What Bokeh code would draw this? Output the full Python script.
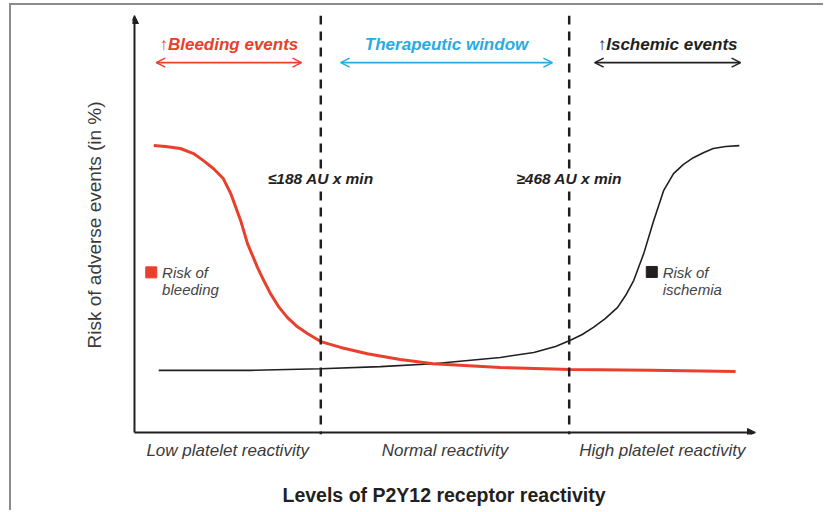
from bokeh.plotting import figure
from bokeh.models import Range1d, Span, Arrow, NormalHead, OpenHead, Label, FixedTicker
from bokeh.embed import file_html
from bokeh.resources import INLINE

# ---- data ----
reactivity_bleeding = [3.1, 5.0, 7.4, 9.5, 11.1, 12.7, 14.3, 15.5, 17.1, 18.2, 19.8, 20.8, 21.9,
                       23.2, 24.6, 26.2, 27.9, 30.0, 33.2, 37.5, 42.8, 48.1, 58.9, 70.2, 83.1, 96.8]
risk_bleeding = [68.8, 68.6, 68.1, 66.9, 65.2, 63.3, 60.9, 57.3, 50.8, 45.3, 39.6, 36.5, 33.3,
                 30.2, 27.6, 25.4, 23.7, 21.8, 20.4, 18.9, 17.5, 16.5, 15.6, 15.1, 14.9, 14.6]
reactivity_ischemia = [3.9, 18.7, 30.0, 39.6, 48.1, 58.9, 64.3, 67.8, 70.2, 72.1, 73.9, 75.8, 77.8,
                       79.1, 80.4, 82.0, 83.6, 85.2, 86.8, 88.4, 90.0, 91.6, 93.2, 95.2, 97.4]
risk_ischemia = [14.9, 14.9, 15.3, 15.8, 16.5, 18.0, 19.2, 20.6, 22.1, 23.5, 25.2, 27.3, 30.0,
                 32.9, 36.5, 42.9, 50.8, 58.0, 62.1, 64.3, 65.9, 67.1, 68.1, 68.6, 68.8]
thresholds = [30, 70]
threshold_labels = ["\u2264188 AU x min", "\u2265468 AU x min"]
categories = ["Low platelet reactivity", "Normal reactivity", "High platelet reactivity"]
category_centers = [15, 50, 85]
zone_titles = ["\u2191Bleeding events", "Therapeutic window", "\u2191Ischemic events"]
zone_starts = [3.5, 33.2, 74.1]
zone_ends = [26.9, 67.3, 97.6]

RED = "#e8402c"
BLUE = "#29abe2"
DARK = "#231f20"
GREY = "#3a3a3a"
FONT = "Liberation Sans"

p = figure(width=814, height=507, x_range=Range1d(-0.32, 100), y_range=Range1d(-0.48, 100),
           output_backend="svg", toolbar_location=None,
           min_border_left=121, min_border_right=70, min_border_top=10, min_border_bottom=78)
p.styles = {"border-left": "2px solid #8c8c8c", "border-top": "2px solid #8c8c8c",
            "margin-left": "9px", "margin-top": "3px"}
p.outline_line_color = None
p.grid.grid_line_color = None
p.background_fill_color = "white"
p.border_fill_color = "white"

# x axis: category labels + title
xa = p.xaxis[0]
xa.ticker = FixedTicker(ticks=category_centers)
xa.major_label_overrides = {c: t for c, t in zip(category_centers, categories)}
xa.axis_line_color = None
xa.major_tick_line_color = None
xa.minor_tick_line_color = None
xa.major_label_text_font = FONT
xa.major_label_text_font_style = "italic"
xa.major_label_text_font_size = "17px"
xa.major_label_text_color = GREY
xa.major_label_standoff = 0
xa.axis_label = "Levels of P2Y12 receptor reactivity"
xa.axis_label_text_font = FONT
xa.axis_label_text_font_style = "bold"
xa.axis_label_text_font_size = "19.5px"
xa.axis_label_text_color = DARK
xa.axis_label_standoff = 21

ya = p.yaxis[0]
ya.ticker = FixedTicker(ticks=[])
ya.axis_line_color = None
ya.major_tick_line_color = None
ya.minor_tick_line_color = None
ya.axis_label = "Risk of adverse events (in %)"
ya.axis_label_text_font = FONT
ya.axis_label_text_font_style = "normal"
ya.axis_label_text_font_size = "19px"
ya.axis_label_text_color = GREY
ya.axis_label_standoff = 28

# axes with arrow heads
p.add_layout(Arrow(x_start=0, y_start=0, x_end=100, y_end=0, line_width=2, line_color=DARK,
                   end=NormalHead(size=8, fill_color=DARK, line_color=DARK)))
p.add_layout(Arrow(x_start=0, y_start=0, x_end=0, y_end=100, line_width=2, line_color=DARK,
                   end=NormalHead(size=8, fill_color=DARK, line_color=DARK)))

# thresholds
for t, lab in zip(thresholds, threshold_labels):
    p.add_layout(Span(location=t, dimension="height", line_color=DARK, line_width=2.5,
                      line_dash="9 7"))
    p.add_layout(Label(x=t, y=61.0, text=lab, text_align="center", text_baseline="middle",
                       text_font=FONT, text_font_style="bold italic", text_font_size="15.5px",
                       text_color=DARK, background_fill_color="white"))

# zone titles and double arrows
zone_colors = [RED, BLUE, DARK]
for title, x0, x1, c in zip(zone_titles, zone_starts, zone_ends, zone_colors):
    p.add_layout(Label(x=(x0 + x1) / 2, y=93.0, text=title, text_align="center",
                       text_baseline="middle", text_font=FONT, text_font_style="bold italic",
                       text_font_size="17px", text_color=c))
    p.add_layout(Arrow(x_start=x0, y_start=88.7, x_end=x1, y_end=88.7, line_color=c,
                       line_width=1.6,
                       start=OpenHead(size=9, line_color=c, line_width=1.6),
                       end=OpenHead(size=9, line_color=c, line_width=1.6)))

# curves
p.line(reactivity_ischemia, risk_ischemia, line_color=DARK, line_width=1.6)
p.line(reactivity_bleeding, risk_bleeding, line_color=RED, line_width=3)

# legend-like labels
legend_x = [2.7, 83.3]
legend_colors = [RED, DARK]
legend_texts = [("Risk of", "bleeding"), ("Risk of", "ischemia")]
p.scatter(legend_x, [38.4, 38.5], marker="square", size=11, color=legend_colors)
for lx, (l1, l2) in zip(legend_x, legend_texts):
    p.add_layout(Label(x=lx + 1.75, y=38.4, text=l1, text_align="left", text_baseline="middle",
                       text_font=FONT, text_font_style="italic", text_font_size="15px",
                       text_color="#444444"))
    p.add_layout(Label(x=lx + 1.75, y=34.2, text=l2, text_align="left", text_baseline="middle",
                       text_font=FONT, text_font_style="italic", text_font_size="15px",
                       text_color="#444444"))

open("out.html", "w").write(file_html(p, INLINE))
